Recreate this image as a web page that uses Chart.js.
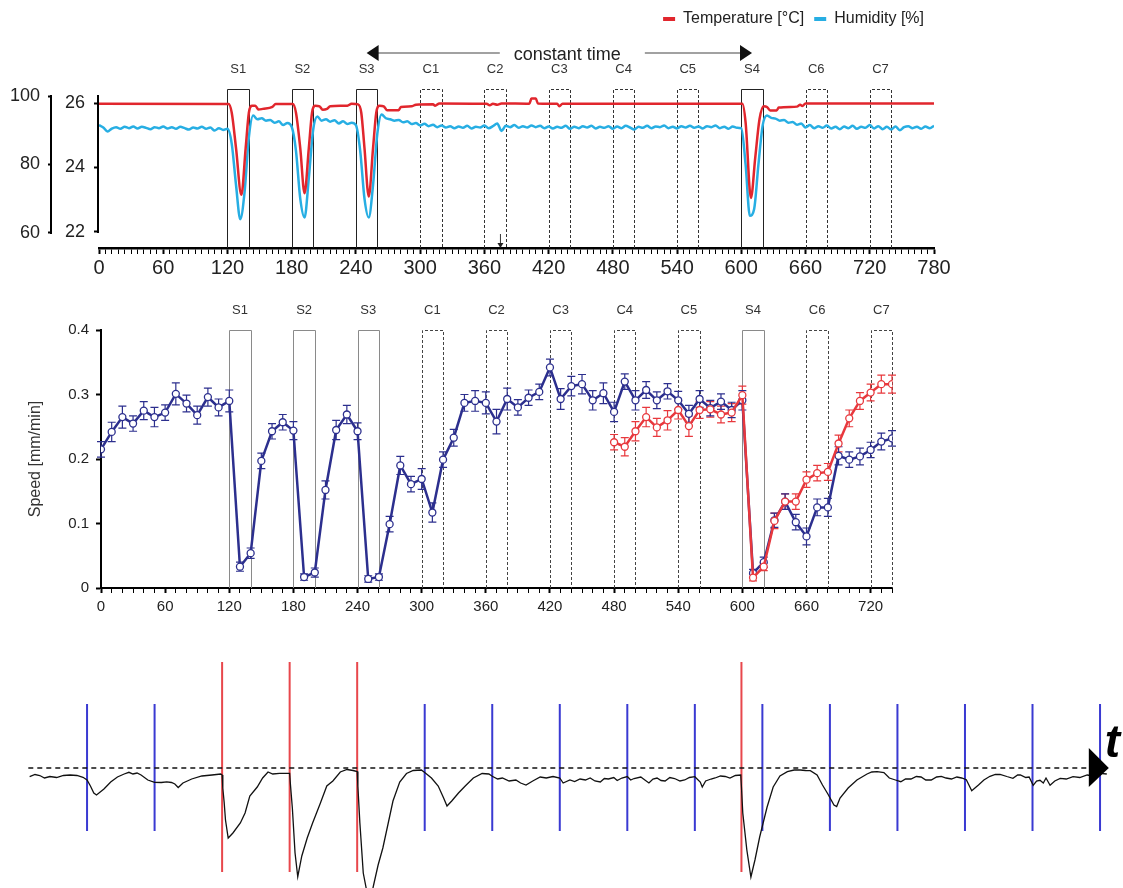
<!DOCTYPE html>
<html lang="en">
<head>
    <meta charset="UTF-8"/>
    <title>stimulus response</title>
    <script src="https://cdn.jsdelivr.net/npm/chart.js@4.4.1/dist/chart.umd.min.js"></script>
    <style>
        body { margin: 0; background: #fff; }
        .wrap { position: relative; width: 1123px; height: 888px; overflow: hidden; }
        canvas { position: absolute; left: 0; }
        #envChart { top: 0; }
        #speedChart { top: 300px; }
        #traceChart { top: 640px; }
    </style>
</head>
<body>
<div class="wrap">
    <canvas id="envChart" width="1123" height="290"></canvas>
    <canvas id="speedChart" width="1123" height="320"></canvas>
    <canvas id="traceChart" width="1123" height="248"></canvas>
</div>
<script>
    // stimulus / control windows (min)
    const boxLabels = ['S1', 'S2', 'S3', 'C1', 'C2', 'C3', 'C4', 'C5', 'S4', 'C6', 'C7'];
    const boxStarts = [120, 180, 240, 300, 360, 420, 480, 540, 600, 660, 720];
    const boxDuration = 20;
    const constantFrom = 250, constantTo = 610;
    const markTime = 375;

    // top panel: temperature [°C]
    const tempTime = [0, 121, 124, 128, 133, 137, 140, 143, 146, 149, 153, 162, 165,
        181, 184, 188, 192, 196, 199, 202, 206, 209, 213, 216, 232, 236,
        242, 245, 248, 252, 256, 259, 262, 266, 269, 280, 282, 292, 296,
        312, 314, 318, 362, 365, 368, 372, 376, 402, 404, 408, 410, 428, 430, 433,
        601, 604, 609, 613, 617, 621, 624, 627, 633, 635, 652, 655, 657, 660, 780];
    const tempValues = [25.98, 25.97, 25.70, 24.60, 23.15, 24.60, 25.70, 25.92, 25.92, 25.80, 25.82, 25.88, 25.97,
        25.97, 25.70, 24.60, 23.20, 24.60, 25.70, 25.92, 25.90, 25.79, 25.82, 25.90, 25.92, 25.98,
        25.96, 25.70, 24.60, 23.10, 24.60, 25.70, 25.92, 25.90, 25.78, 25.78, 25.88, 25.90, 25.95,
        25.96, 25.92, 25.99, 25.98, 25.93, 25.98, 25.95, 25.99, 25.98, 26.14, 26.14, 25.99, 25.98, 25.90, 25.98,
        25.98, 25.40, 23.05, 24.30, 25.50, 25.90, 25.88, 25.77, 25.77, 25.86, 25.89, 25.95, 25.91, 25.99, 25.99];
    // top panel: humidity [%], one reading every 4 min
    const humStep = 4;
    const humValues = [
        91.5, 90.8, 89.6, 90.5, 90.9, 90.4, 91.0, 90.6, 91.1, 90.5,
        91.0, 90.7, 90.3, 90.9, 90.6, 91.1, 90.5, 90.9, 90.4, 91.0,
        90.6, 90.2, 90.8, 90.5, 91.0, 90.4, 90.8, 89.9, 90.6, 90.1,
        90.4, 86.0, 74.0, 64.0, 72.0, 88.0, 94.3, 93.2, 93.5, 92.8,
        93.0, 92.2, 92.6, 91.5, 92.1, 91.0, 84.0, 70.0, 64.5, 76.0,
        90.0, 94.0, 92.8, 93.2, 92.5, 92.9, 92.0, 92.6, 91.8, 92.2,
        91.5, 84.0, 70.0, 64.5, 74.0, 89.0, 94.6, 93.5, 93.2, 92.8,
        93.0, 92.3, 92.6, 91.8, 92.1, 91.4, 91.9, 91.2, 91.6, 90.9,
        91.4, 90.8, 91.2, 90.6, 91.1, 90.7, 91.3, 90.5, 91.0, 90.8,
        91.4, 90.6, 91.2, 92.0, 89.8, 91.3, 90.9, 91.5, 90.7, 91.2,
        90.8, 91.4, 90.9, 91.3, 90.6, 91.1, 90.5, 91.0, 90.7, 91.3,
        90.4, 91.0, 90.6, 91.2, 90.8, 91.3, 90.5, 91.0, 90.7, 91.2,
        90.4, 91.1, 90.6, 91.3, 90.8, 90.2, 91.0, 90.7, 91.3, 90.6,
        91.1, 90.9, 91.4, 90.6, 91.0, 90.5, 91.2, 90.8, 91.3, 90.7,
        91.1, 90.5, 91.2, 90.9, 91.4, 90.6, 91.0, 90.4, 91.1, 90.7,
        90.6, 80.0, 65.0, 67.0, 80.0, 91.5, 94.3, 93.6, 93.4, 92.8,
        93.0, 92.2, 92.4, 91.6, 92.0, 90.8, 91.5, 90.6, 91.2, 90.7,
        91.4, 90.5, 91.0, 90.3, 91.1, 90.6, 91.3, 90.4, 91.0, 90.7,
        91.5, 90.5, 91.2, 90.3, 91.0, 90.2, 91.1, 90.0, 90.9, 91.2,
        90.6, 91.0, 90.4, 91.1, 90.6, 91.3];
    const tempTicks = [22, 24, 26];
    const humTicks = [60, 80, 100];

    // middle panel: speed [mm/min], one point every 10 min
    const speedStep = 10;
    const blueSpeed = [
        0.215, 0.242, 0.265, 0.255, 0.275, 0.265, 0.272, 0.301, 0.286, 0.268,
        0.296, 0.280, 0.290, 0.033, 0.054, 0.197, 0.243, 0.257, 0.244, 0.017,
        0.024, 0.152, 0.245, 0.269, 0.243, 0.014, 0.017, 0.099, 0.190, 0.161,
        0.169, 0.117, 0.199, 0.233, 0.287, 0.290, 0.287, 0.258, 0.293, 0.280,
        0.295, 0.304, 0.342, 0.293, 0.313, 0.316, 0.291, 0.302, 0.273, 0.320,
        0.291, 0.307, 0.291, 0.305, 0.291, 0.270, 0.293, 0.279, 0.289, 0.276,
        0.291, 0.023, 0.040, 0.105, 0.134, 0.102, 0.080, 0.125, 0.125, 0.205,
        0.199, 0.204, 0.214, 0.227, 0.232];
    const blueErr = [
        0.012, 0.015, 0.017, 0.012, 0.014, 0.015, 0.012, 0.017, 0.013, 0.014,
        0.014, 0.013, 0.017, 0.007, 0.008, 0.012, 0.012, 0.012, 0.014, 0.005,
        0.007, 0.014, 0.015, 0.014, 0.013, 0.005, 0.005, 0.012, 0.014, 0.012,
        0.016, 0.015, 0.012, 0.013, 0.013, 0.016, 0.017, 0.019, 0.017, 0.012,
        0.012, 0.012, 0.013, 0.016, 0.015, 0.015, 0.015, 0.016, 0.015, 0.012,
        0.015, 0.013, 0.013, 0.012, 0.014, 0.013, 0.013, 0.012, 0.012, 0.012,
        0.015, 0.006, 0.008, 0.011, 0.012, 0.012, 0.013, 0.013, 0.014, 0.014,
        0.012, 0.013, 0.012, 0.013, 0.012];
    const redStart = 480;
    const redSpeed = [
        0.226, 0.219, 0.243, 0.265, 0.249, 0.260, 0.276, 0.251, 0.276, 0.277,
        0.269, 0.272, 0.299, 0.016, 0.033, 0.104, 0.134, 0.134, 0.168, 0.178,
        0.180, 0.224, 0.263, 0.290, 0.303, 0.316, 0.316];
    const redErr = [
        0.012, 0.014, 0.015, 0.015, 0.014, 0.015, 0.014, 0.016, 0.013, 0.012,
        0.013, 0.014, 0.014, 0.005, 0.006, 0.012, 0.012, 0.012, 0.012, 0.012,
        0.013, 0.013, 0.013, 0.013, 0.013, 0.014, 0.014];

    // bottom panel: schematic signal, time in marker periods
    const traceTime = [
        0.15, 0.23, 0.30, 0.37, 0.45, 0.55, 0.65, 0.75, 0.85, 0.94, 1.00, 1.05, 1.10, 1.14, 1.25, 1.35, 1.45,
        1.55, 1.62, 1.68, 1.74, 1.80, 1.90, 2.00, 2.10, 2.18, 2.25, 2.30, 2.35, 2.42, 2.55, 2.70, 2.85, 2.98,
        3.00, 3.01, 3.03, 3.05, 3.09, 3.16, 3.27, 3.34, 3.41, 3.52, 3.60, 3.68, 3.75, 3.85, 4.00,
        4.01, 4.04, 4.08, 4.12, 4.18, 4.26, 4.34, 4.45, 4.55, 4.64, 4.75, 4.85, 4.94, 5.00,
        5.01, 5.04, 5.09, 5.15, 5.19, 5.24, 5.31, 5.38, 5.46, 5.53, 5.63, 5.73, 5.83, 5.95,
        6.00, 6.10, 6.20, 6.28, 6.33, 6.40, 6.50, 6.60, 6.72, 6.85, 6.95,
        7.00, 7.08, 7.15, 7.25, 7.35, 7.42, 7.50, 7.60, 7.71, 7.80, 7.90,
        8.00, 8.05, 8.15, 8.22, 8.30, 8.38, 8.45, 8.52, 8.60, 8.66, 8.72, 8.80, 8.85, 8.92,
        9.00, 9.05, 9.10, 9.20, 9.26, 9.32, 9.38, 9.44, 9.50, 9.56, 9.63, 9.70, 9.78, 9.85, 9.92,
        10.00, 10.08, 10.11, 10.16, 10.24, 10.30, 10.38, 10.45, 10.52, 10.60, 10.68,
        10.69, 10.71, 10.77, 10.83, 10.89, 10.96, 11.07, 11.16, 11.26, 11.37, 11.47, 11.56, 11.64, 11.71,
        11.81, 11.89, 11.97, 12.06, 12.10, 12.15, 12.27, 12.40, 12.55, 12.62, 12.70, 12.80, 12.88, 12.97,
        13.05, 13.12, 13.20, 13.28, 13.35, 13.42, 13.50, 13.58, 13.65, 13.72, 13.80, 13.88, 13.95,
        14.02, 14.10, 14.20, 14.28, 14.37, 14.45, 14.52, 14.62, 14.71, 14.78, 14.82, 14.90, 14.95,
        15.01, 15.06, 15.11, 15.16, 15.20, 15.26, 15.33, 15.41, 15.50, 15.60, 15.70, 15.81, 15.90, 16.00, 16.10];
    const traceSignal = [
        -8.7, -6.5, -7.5, -10, -8.5, -9.5, -7.5, -7, -7.5, -9.3, -12, -18, -25, -27, -21, -14, -9,
        -6, -4.3, -6, -5, -7, -12, -14.3, -14.5, -13.8, -14.5, -16, -19.5, -15, -11, -8, -7, -6,
        -7, -20, -34, -52, -70, -65, -55, -45, -28, -19, -10, -4, -6, -5.3, -5.3,
        -15, -40, -85, -108.7, -88, -70, -55, -36, -18, -13, -4, -1.5, -2.5, -3.5,
        -18, -55, -105, -126, -134, -118, -97, -80, -55, -33, -14, -5.5, -2.5, -2,
        -4.5, -10, -18, -30, -38, -33, -25, -18, -10, -5.5, -6,
        -8.3, -11, -10, -13, -12, -15, -17, -13, -9, -10, -8.5,
        -10, -15, -12, -13.5, -11, -12, -10, -13, -14, -10.5, -11, -9.5, -12.5, -10,
        -8.5, -12, -10.5, -9, -12, -15, -11, -10, -12.5, -13, -9.5, -10.5, -13, -12, -9.5,
        -8.7, -14, -19, -13, -11, -10, -8, -8.5, -10, -7.5, -7,
        -19, -45, -82, -109, -92, -69, -39, -19, -8, -3.7, -2, -2, -2.5, -2.7,
        -7, -17, -26, -37, -38.5, -30, -20, -12, -6, -4, -3.7, -4.5, -10, -12,
        -13.7, -11, -11, -8.5, -9, -12, -12, -9, -8.3, -10, -11, -9, -10,
        -11.7, -22.7, -17, -12, -8.3, -6.5, -6.3, -8.5, -10.3, -7, -7, -9.5, -9,
        -17.3, -13, -12.3, -15, -10, -17.3, -13, -10.3, -11, -8.7, -9.5, -7, -8, -5.3, -6];
    const baseTime = [0.13, 16.1];
    const controlMarks = [1, 2, 6, 7, 8, 9, 10, 11, 12, 13, 14, 15, 16];
    const stimMarks = [3, 4, 5, 10.69];

    const FONT = "'Liberation Sans', Arial, sans-serif";
    Chart.defaults.font.family = FONT;
    Chart.defaults.color = '#222';

    const RED = '#e1262d', CYAN = '#27aee3', NAVY = '#2c2f8e', RED2 = '#e8383d';

    function drawBoxes(ctx, x, top, bottom, solidColor, dashColor) {
        ctx.save();
        ctx.lineWidth = 1;
        boxStarts.forEach((s, i) => {
            const l = Math.round(x.getPixelForValue(s)) + 0.5;
            const r = Math.round(x.getPixelForValue(s + boxDuration)) + 0.5;
            const stim = boxLabels[i][0] === 'S';
            ctx.strokeStyle = stim ? solidColor : dashColor;
            ctx.setLineDash(stim ? [] : [3, 2]);
            ctx.beginPath();
            ctx.moveTo(l, bottom);
            ctx.lineTo(l, top);
            ctx.lineTo(r, top);
            ctx.lineTo(r, bottom);
            ctx.stroke();
        });
        ctx.restore();
    }

    function boxAxis(padding, height) {
        return {
            type: 'linear', position: 'top', min: 0,
            afterBuildTicks: s => { s.ticks = boxStarts.map(b => ({value: b + boxDuration / 2})); },
            ticks: {autoSkip: false, maxRotation: 0, padding: padding, font: {size: 13}, color: '#333',
                callback: (v, i) => boxLabels[i]},
            grid: {display: false},
            border: {display: false},
            afterFit: s => { s.height = height; }
        };
    }

    // top panel decorations
    const envDecor = {
        id: 'envDecor',
        beforeDatasetsDraw(chart) {
            const {ctx, chartArea, scales: {x}} = chart;
            drawBoxes(ctx, x, chartArea.top - 6.5, chartArea.bottom, '#222', '#333');
        },
        afterDraw(chart) {
            const {ctx, chartArea, scales: {x, yT, yH}} = chart;
            ctx.save();
            // y spines
            ctx.strokeStyle = '#000';
            ctx.lineWidth = 2;
            ctx.beginPath();
            ctx.moveTo(yT.right - 1, yT.getPixelForValue(26.25));
            ctx.lineTo(yT.right - 1, yT.getPixelForValue(tempTicks[0]) + 1);
            ctx.moveTo(yH.right - 1, yH.getPixelForValue(humTicks[2]) - 1);
            ctx.lineTo(yH.right - 1, yH.getPixelForValue(humTicks[0]) + 1);
            ctx.stroke();
            // constant time
            const y = chartArea.top - 43;
            const a = x.getPixelForValue(constantFrom), b = x.getPixelForValue(constantTo);
            const mid = (a + b) / 2 + 8;
            ctx.font = '18px ' + FONT;
            ctx.fillStyle = '#222';
            ctx.textAlign = 'center';
            ctx.textBaseline = 'middle';
            const label = 'constant time';
            const w = ctx.measureText(label).width;
            ctx.fillText(label, mid, y + 2);
            ctx.strokeStyle = '#444';
            ctx.lineWidth = 1.2;
            ctx.beginPath();
            ctx.moveTo(mid - w / 2 - 14, y);
            ctx.lineTo(a + 10, y);
            ctx.moveTo(mid + w / 2 + 24, y);
            ctx.lineTo(b - 10, y);
            ctx.stroke();
            ctx.fillStyle = '#111';
            ctx.beginPath();
            ctx.moveTo(a, y); ctx.lineTo(a + 12, y - 8); ctx.lineTo(a + 12, y + 8); ctx.closePath();
            ctx.moveTo(b, y); ctx.lineTo(b - 12, y - 8); ctx.lineTo(b - 12, y + 8); ctx.closePath();
            ctx.fill();
            // small marker on the time axis
            const mx = x.getPixelForValue(markTime);
            ctx.strokeStyle = '#333';
            ctx.lineWidth = 1;
            ctx.beginPath();
            ctx.moveTo(mx, chartArea.bottom - 14);
            ctx.lineTo(mx, chartArea.bottom - 3);
            ctx.stroke();
            ctx.fillStyle = '#222';
            ctx.beginPath();
            ctx.moveTo(mx, chartArea.bottom); ctx.lineTo(mx - 3, chartArea.bottom - 5); ctx.lineTo(mx + 3, chartArea.bottom - 5);
            ctx.closePath();
            ctx.fill();
            ctx.restore();
        }
    };

    new Chart(document.getElementById('envChart'), {
        type: 'line',
        data: {
            datasets: [{
                label: 'Temperature [°C]',
                data: tempTime.map((t, i) => ({x: t, y: tempValues[i]})),
                xAxisID: 'x', yAxisID: 'yT',
                borderColor: RED, backgroundColor: RED, borderWidth: 2.5,
                pointRadius: 0, cubicInterpolationMode: 'monotone'
            }, {
                label: 'Humidity [%]',
                data: humValues.map((h, i) => ({x: i * humStep, y: h})),
                xAxisID: 'x', yAxisID: 'yH',
                borderColor: CYAN, backgroundColor: CYAN, borderWidth: 2.5,
                pointRadius: 0, cubicInterpolationMode: 'monotone'
            }]
        },
        options: {
            responsive: false,
            animation: false,
            events: [],
            layout: {padding: {top: 1, right: 189, left: 0, bottom: 0}},
            plugins: {
                legend: {
                    position: 'top', align: 'end',
                    labels: {
                        boxWidth: 12, boxHeight: 4, padding: 10, color: '#222', font: {size: 16},
                        generateLabels: chart => Chart.defaults.plugins.legend.labels.generateLabels(chart)
                            .map(item => Object.assign(item, {lineWidth: 0}))
                    }
                },
                tooltip: {enabled: false}
            },
            scales: {
                x: {
                    type: 'linear', position: 'bottom', min: 0, max: 780,
                    afterBuildTicks: s => {
                        const t = [];
                        for (let v = 0; v <= 780; v += 6) t.push({value: v});
                        s.ticks = t;
                    },
                    ticks: {autoSkip: false, maxRotation: 0, padding: 2, font: {size: 20}, color: '#222',
                        callback: v => (v % 60 === 0 ? v : '')},
                    grid: {drawOnChartArea: false, tickLength: 6, tickColor: '#000',
                        tickWidth: c => (c.tick && c.tick.value % 60 === 0 ? 2 : 1)},
                    border: {color: '#000', width: 2.5},
                    afterFit: s => { s.height = 42; }
                },
                xBox: Object.assign(boxAxis(11, 59), {max: 780}),
                yT: {
                    position: 'left', weight: 0, min: 21.5, max: 26.22,
                    afterBuildTicks: s => { s.ticks = tempTicks.map(v => ({value: v})); },
                    ticks: {padding: 9, font: {size: 18}, color: '#222'},
                    grid: {drawOnChartArea: false, tickLength: 5, tickColor: '#000', tickWidth: 2},
                    border: {display: false},
                    afterFit: s => { s.width = 47; }
                },
                yH: {
                    position: 'left', weight: 1, min: 55.6, max: 100,
                    afterBuildTicks: s => { s.ticks = humTicks.map(v => ({value: v})); },
                    ticks: {padding: 8, font: {size: 18}, color: '#222'},
                    grid: {drawOnChartArea: false, tickLength: 4, tickColor: '#000', tickWidth: 2},
                    border: {display: false},
                    afterFit: s => { s.width = 52; }
                }
            }
        },
        plugins: [envDecor]
    });

    // middle panel
    const speedDecor = {
        id: 'speedDecor',
        beforeDatasetsDraw(chart) {
            const {ctx, chartArea, scales: {x, y}} = chart;
            drawBoxes(ctx, x, chartArea.top + 0.5, chartArea.bottom, '#8a8a8a', '#444');
            chart.data.datasets.forEach(ds => {
                ctx.save();
                ctx.strokeStyle = ds.borderColor;
                ctx.lineWidth = 1.2;
                ctx.beginPath();
                ds.data.forEach((p, i) => {
                    const px = x.getPixelForValue(p.x);
                    const hi = y.getPixelForValue(p.y + ds.errors[i]);
                    const lo = y.getPixelForValue(p.y - ds.errors[i]);
                    ctx.moveTo(px, hi); ctx.lineTo(px, lo);
                    ctx.moveTo(px - 4, hi); ctx.lineTo(px + 4, hi);
                    ctx.moveTo(px - 4, lo); ctx.lineTo(px + 4, lo);
                });
                ctx.stroke();
                ctx.restore();
            });
        }
    };

    new Chart(document.getElementById('speedChart'), {
        type: 'line',
        data: {
            datasets: [{
                data: redSpeed.map((v, i) => ({x: redStart + i * speedStep, y: v})),
                errors: redErr,
                xAxisID: 'x', yAxisID: 'y',
                borderColor: RED2, borderWidth: 2.5,
                pointRadius: 3.5, pointBackgroundColor: '#fff', pointBorderColor: RED2, pointBorderWidth: 1.3
            }, {
                data: blueSpeed.map((v, i) => ({x: i * speedStep, y: v})),
                errors: blueErr,
                xAxisID: 'x', yAxisID: 'y',
                borderColor: NAVY, borderWidth: 2.5,
                pointRadius: 3.5, pointBackgroundColor: '#fff', pointBorderColor: NAVY, pointBorderWidth: 1.3
            }]
        },
        options: {
            responsive: false,
            animation: false,
            events: [],
            layout: {padding: {top: 0, right: 231, left: 0, bottom: 0}},
            plugins: {legend: {display: false}, tooltip: {enabled: false}},
            scales: {
                x: {
                    type: 'linear', position: 'bottom', min: 0, max: 740,
                    afterBuildTicks: s => {
                        const t = [];
                        for (let v = 0; v <= 740; v += 10) t.push({value: v});
                        s.ticks = t;
                    },
                    ticks: {autoSkip: false, maxRotation: 0, padding: 5, font: {size: 15}, color: '#222',
                        callback: v => (v % 60 === 0 ? v : '')},
                    grid: {drawOnChartArea: false, tickLength: 5, tickColor: '#000',
                        tickWidth: c => (c.tick && c.tick.value % 60 === 0 ? 2 : 1)},
                    border: {color: '#000', width: 2},
                    afterFit: s => { s.height = 32; }
                },
                xBox: Object.assign(boxAxis(4, 30), {max: 740}),
                y: {
                    position: 'left', min: 0, max: 0.4,
                    ticks: {stepSize: 0.1, padding: 7, font: {size: 15}, color: '#222'},
                    grid: {drawOnChartArea: false, tickLength: 5, tickColor: '#000', tickWidth: 2},
                    border: {color: '#000', width: 2},
                    title: {display: true, text: 'Speed [mm/min]', color: '#333', font: {size: 16}, padding: {top: 26}},
                    afterFit: s => { s.width = 101; }
                }
            }
        },
        plugins: [speedDecor]
    });

    // bottom panel
    const controlTop = 64, controlBottom = -63, stimTop = 106, stimBottom = -104;
    const controlLines = [], stimLines = [];
    controlMarks.forEach(m => controlLines.push({x: m, y: controlTop}, {x: m, y: controlBottom}, {x: m, y: null}));
    stimMarks.forEach(m => stimLines.push({x: m, y: stimTop}, {x: m, y: stimBottom}, {x: m, y: null}));

    const traceDecor = {
        id: 'traceDecor',
        afterDatasetsDraw(chart) {
            const {ctx, scales: {x, y}} = chart;
            const tipX = x.getPixelForValue(baseTime[1]), tipY = y.getPixelForValue(0);
            ctx.save();
            ctx.fillStyle = '#000';
            ctx.beginPath();
            ctx.moveTo(tipX + 2, tipY);
            ctx.lineTo(tipX - 18, tipY - 20);
            ctx.lineTo(tipX - 18, tipY + 19);
            ctx.closePath();
            ctx.fill();
            ctx.font = 'italic bold 46px ' + FONT;
            ctx.textAlign = 'left';
            ctx.textBaseline = 'alphabetic';
            ctx.fillText('t', tipX - 2, tipY - 11);
            ctx.restore();
        }
    };

    new Chart(document.getElementById('traceChart'), {
        type: 'line',
        data: {
            datasets: [{
                data: traceTime.map((t, i) => ({x: t, y: traceSignal[i]})),
                borderColor: '#111', borderWidth: 1.3, pointRadius: 0
            }, {
                data: baseTime.map(t => ({x: t, y: 0})),
                borderColor: '#111', borderWidth: 1.5, borderDash: [5, 4], pointRadius: 0
            }, {
                data: controlLines,
                borderColor: '#3a3ad2', borderWidth: 2, pointRadius: 0, spanGaps: false
            }, {
                data: stimLines,
                borderColor: '#e8474c', borderWidth: 2, pointRadius: 0, spanGaps: false
            }]
        },
        options: {
            responsive: false,
            animation: false,
            events: [],
            layout: {padding: 0},
            plugins: {legend: {display: false}, tooltip: {enabled: false}},
            scales: {
                x: {type: 'linear', display: false, min: -0.289, max: 16.34},
                y: {display: false, min: -120, max: 128}
            }
        },
        plugins: [traceDecor]
    });
</script>
</body>
</html>
